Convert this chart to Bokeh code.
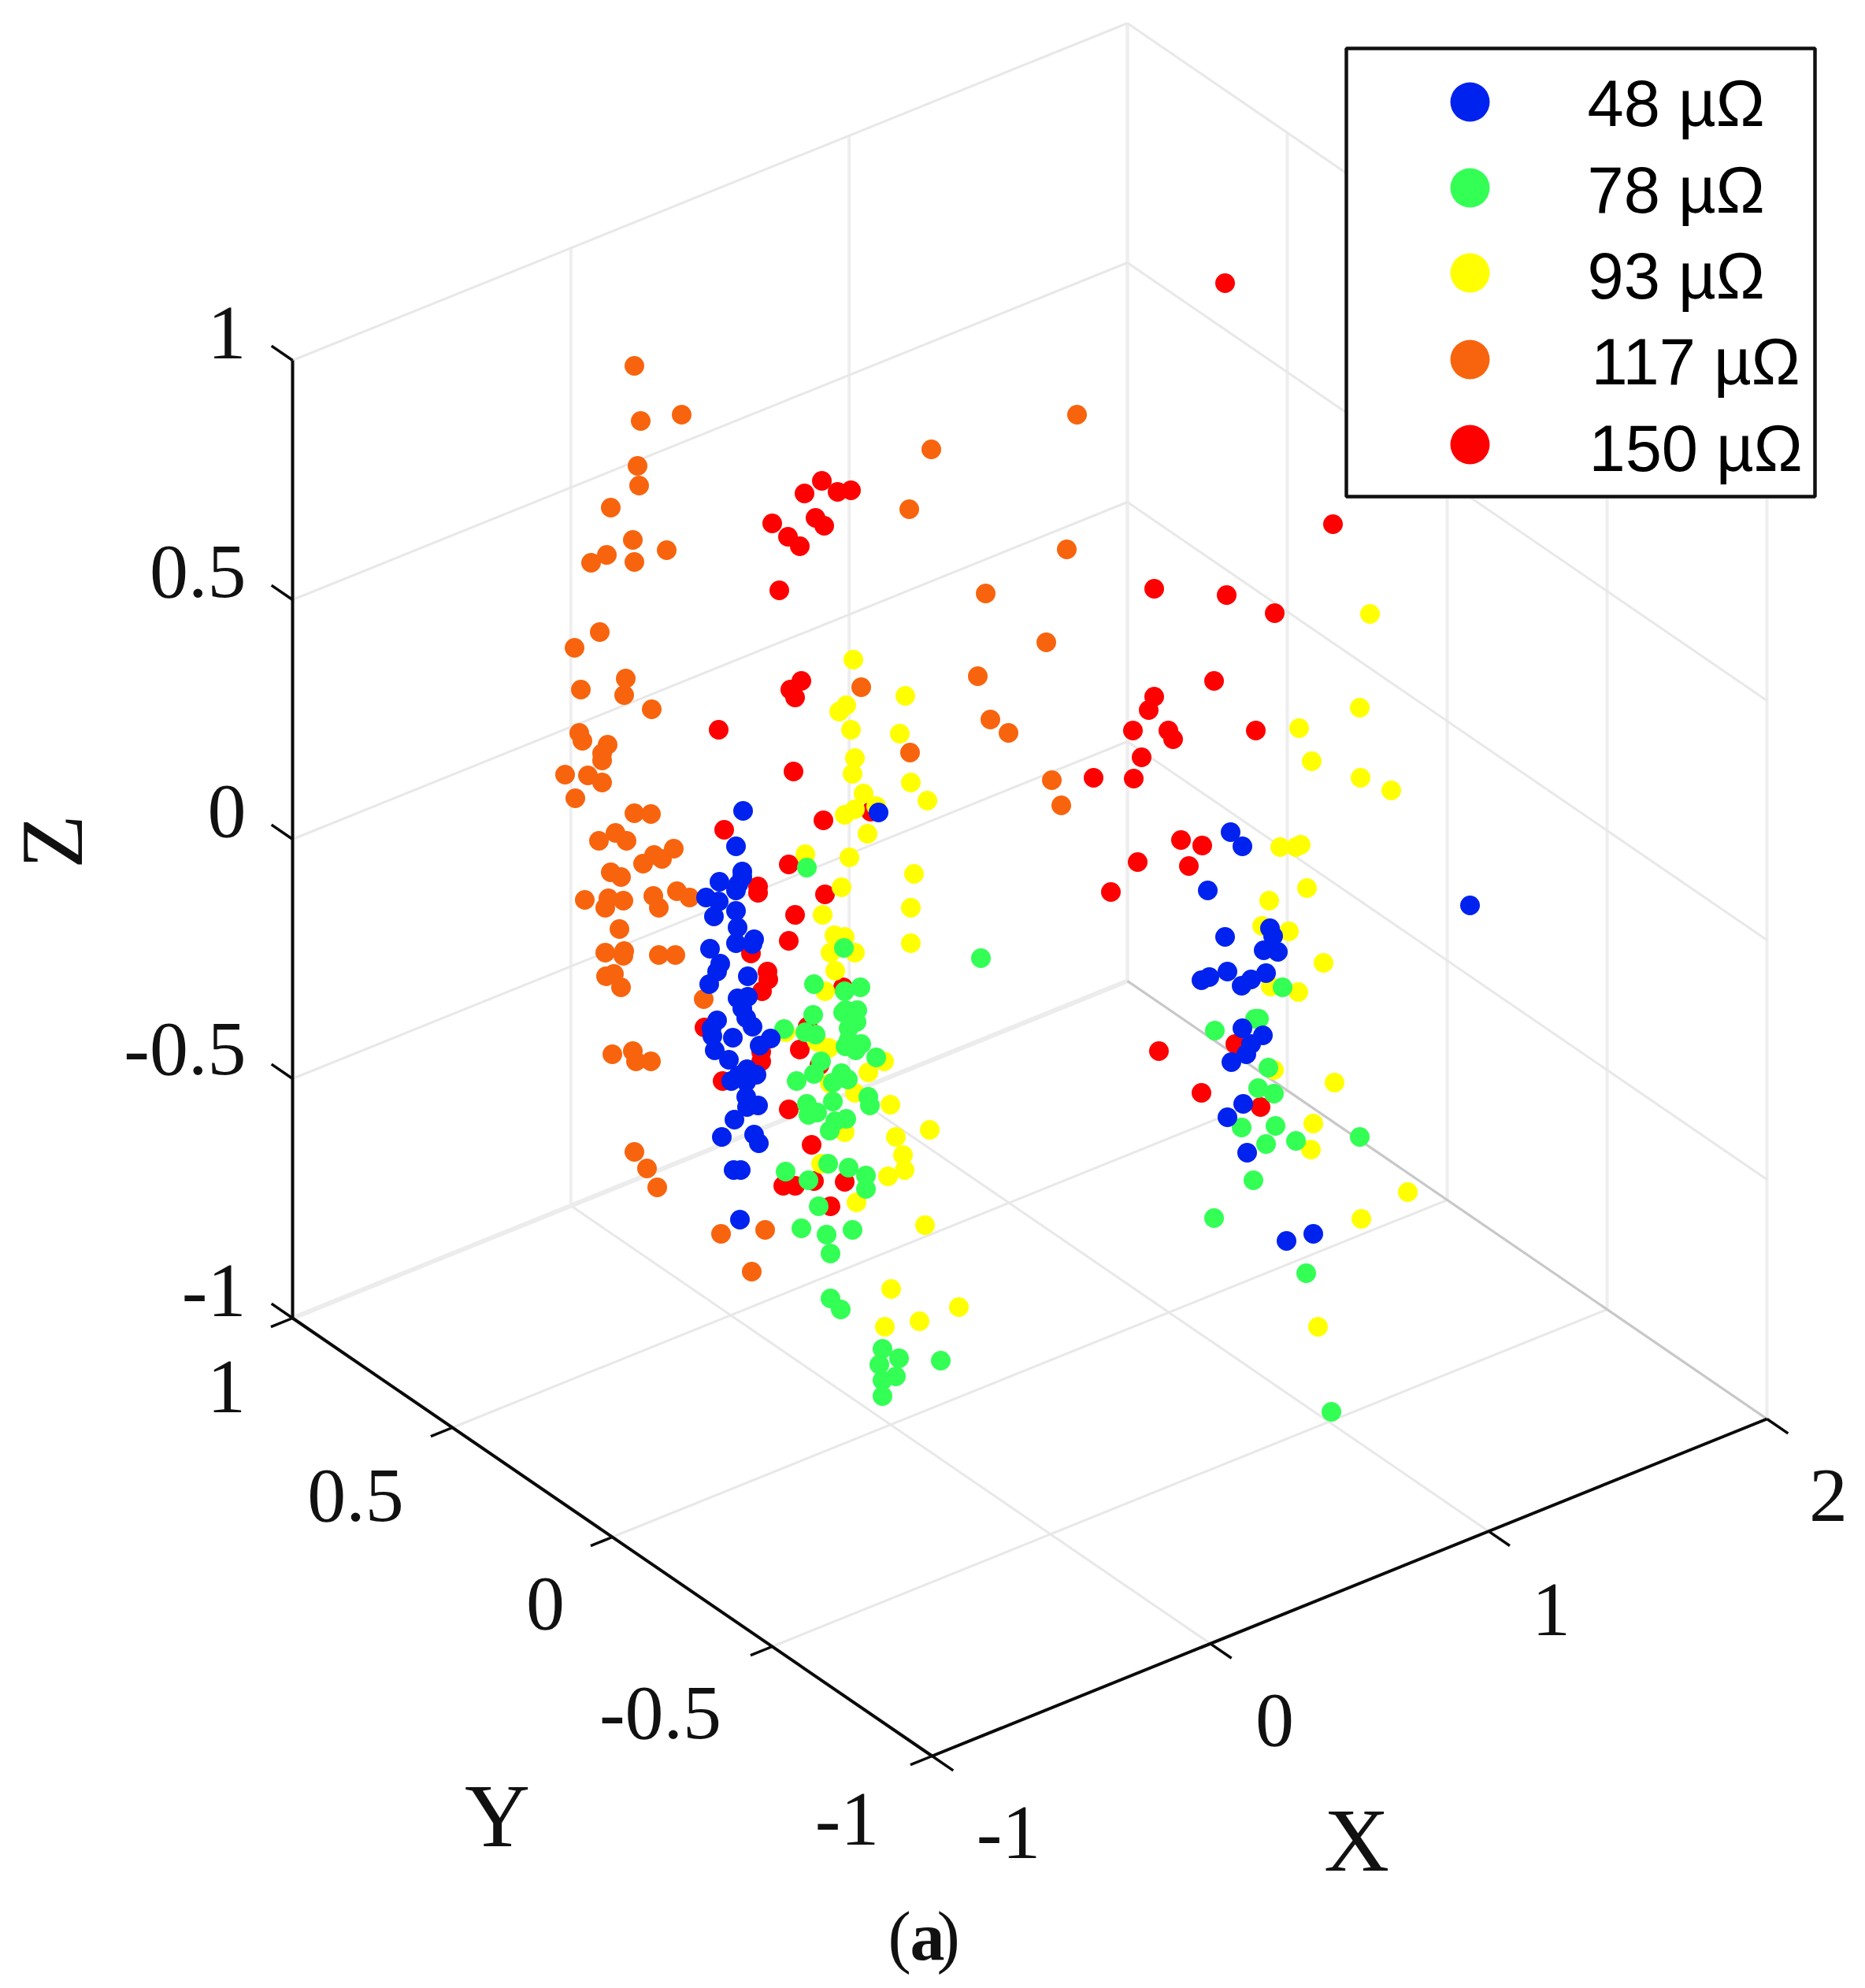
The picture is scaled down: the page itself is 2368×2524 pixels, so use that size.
from bokeh.plotting import figure
from bokeh.embed import file_html
from bokeh.resources import INLINE
from bokeh.core.properties import value
import math

blue_x = [943,934,942,942,913,937,934,896,912,906,934,936,957,934,955,901,914,910,900,949,1115,
          936,949,942,947,910,903,955,904,930,978,964,907,925,948,960,928,937,947,947,962,948,932,916,957,963,931,940,939,
          1562,1577,1533,1866,1555,1612,1616,1604,1622,1525,1535,1558,1607,1588,1576,1577,1603,1588,1582,1563,1578,1558,1583,1633,1667]
blue_y = [1029,1074,1106,1113,1119,1122,1130,1139,1144,1163,1156,1177,1192,1197,1198,1204,1223,1233,1249,1239,1031,
          1267,1265,1280,1292,1295,1305,1303,1315,1317,1318,1327,1333,1345,1357,1364,1372,1365,1373,1392,1403,1405,1421,1443,1440,1451,1485,1485,1548,
          1056,1074,1130,1149,1189,1178,1188,1206,1208,1244,1240,1233,1235,1243,1251,1305,1314,1325,1338,1348,1401,1418,1463,1575,1566]

green_x = [1024,1071,1245,1033,1072,1092,1073,1088,1070,1032,1087,995,1077,1022,1035,1077,1093,1073,1086,1112,1042,1033,1011,1068,1076,1057,1102,1104,1057,1024,1037,1026,1074,1060,1053,
           1051,997,1077,1099,1026,1099,1039,1017,1049,1082,1054,1054,1067,1120,1116,1141,1120,1137,1120,1194,
           1628,1542,1593,1598,1610,1597,1617,1576,1619,1607,1645,1726,1591,1541,1658,1690]
green_y = [1101,1203,1216,1249,1258,1253,1282,1282,1285,1288,1297,1306,1305,1310,1313,1320,1325,1328,1333,1342,1347,1363,1372,1362,1370,1374,1392,1403,1398,1401,1412,1415,1420,1423,1435,
           1477,1487,1482,1492,1498,1509,1531,1559,1567,1561,1591,1648,1662,1712,1732,1724,1752,1747,1772,1727,
           1253,1308,1293,1293,1355,1381,1388,1431,1429,1452,1448,1443,1498,1546,1616,1792]

yellow_x = [1083,1149,1074,1065,1080,1142,1085,1082,1156,1096,1177,1085,1072,1112,1101,1022,1078,1160,1068,1156,1044,1156,1059,1072,1054,1085,1060,
            1047,997,1052,1037,1122,1102,1085,1053,1130,1180,1137,1072,1146,1148,1127,1042,1087,1174,1131,1123,1167,1217,
            1625,1645,1651,1659,1611,1602,1636,1680,1613,1648,1617,1694,1667,1664,1787,1728,1673,1739,1726,1649,1665,1727,1766]
yellow_y = [837,883,895,903,926,931,962,982,993,1007,1016,1027,1034,1023,1058,1084,1088,1109,1126,1152,1161,1197,1187,1189,1209,1209,1232,
            1258,1310,1330,1322,1347,1361,1387,1375,1402,1434,1443,1437,1466,1485,1493,1477,1526,1555,1636,1684,1677,1659,
            1075,1075,1072,1127,1143,1175,1182,1222,1252,1259,1358,1374,1426,1459,1513,1547,1684,779,898,924,966,987,1003]

orange_x = [805,813,865,809,811,775,803,770,750,805,846,1182,1154,761,729,794,792,737,827,1093,1155,735,739,771,764,764,717,746,764,730,
            805,826,760,781,795,855,830,840,816,775,788,742,772,791,768,829,836,859,875,786,768,792,791,836,857,769,779,788,893,777,803,807,826,
            805,821,834,915,971,954,1367,1354,1251,1328,1241,1257,1280,1335,1347]
orange_y = [464,534,526,591,616,644,685,704,714,713,698,570,646,802,822,861,882,875,900,872,955,930,940,945,956,965,983,984,993,1013,
            1032,1033,1067,1057,1067,1077,1085,1090,1096,1107,1113,1142,1140,1143,1152,1137,1152,1131,1139,1179,1209,1207,1213,1212,1212,1239,1236,1253,1268,1338,1334,1347,1347,
            1462,1483,1507,1566,1561,1614,526,697,753,815,858,913,930,990,1022]

red_x = [1043,1021,1063,1080,1035,1046,980,1000,1015,989,1017,1003,1009,912,1007,919,1045,1105,1001,962,962,1047,1009,1001,953,974,967,1015,966,966,894,
         975,917,1001,1030,994,1009,1033,1072,1054,1070,1025,1040,
         1499,1526,1444,1509,1410,1471,1525,1600,1568,1555,1692,1465,1557,1618,1541,1465,1458,1438,1483,1489,1594,1449,1439,1388]
red_y = [610,626,624,622,657,667,664,681,693,749,864,875,885,926,979,1053,1041,1030,1097,1125,1133,1135,1161,1194,1210,1233,1258,1332,1335,1347,1304,
         1243,1372,1408,1453,1505,1505,1499,1500,1531,1253,1303,1352,
         1066,1073,1094,1099,1132,1334,1387,1405,1325,359,665,747,755,778,864,884,901,927,927,938,927,961,988,987]

series_labels = ["48 µΩ", "78 µΩ", "93 µΩ", "117 µΩ", "150 µΩ"]
series_colors = ["#0022EE", "#33FF55", "#FFFF00", "#F8640E", "#FF0000"]
x_ticks = [-1, 0, 1, 2]
y_ticks = [-1, -0.5, 0, 0.5, 1]
z_ticks = [-1, -0.5, 0, 0.5, 1]

A = (371, 1673); VX = (1060, -428); VY = (812, 556); VZ = (0, -1216)

def P(X, Y, Z):
    a, b, c = (X + 1) / 3, (1 - Y) / 2, (Z + 1) / 2
    return (A[0] + a * VX[0] + b * VY[0] + c * VZ[0],
            A[1] + a * VX[1] + b * VY[1] + c * VZ[1])

p = figure(width=2352, height=2516, x_range=(0, 2352), y_range=(2516, 0),
           output_backend="svg", toolbar_location=None, min_border=0)
p.axis.visible = False
p.grid.visible = False
p.outline_line_color = None
p.background_fill_color = "white"

def seg(a, b, color, w):
    p.line([a[0], b[0]], [a[1], b[1]], line_color=color, line_width=w)

GRID = "#e8e8e8"
for X in x_ticks:
    seg(P(X, -1, -1), P(X, 1, -1), GRID, 3)
    seg(P(X, 1, -1), P(X, 1, 1), "#eeeeee", 4)
for Y in y_ticks:
    seg(P(-1, Y, -1), P(2, Y, -1), GRID, 3)
    seg(P(2, Y, -1), P(2, Y, 1), "#eeeeee", 4)
for Z in z_ticks:
    seg(P(-1, 1, Z), P(2, 1, Z), GRID, 3)
    seg(P(2, 1, Z), P(2, -1, Z), GRID, 3)
seg(P(-1, 1, -1), P(2, 1, -1), "#ececec", 6)
seg(P(2, 1, -1), P(2, -1, -1), "#c8c8c8", 3)

# axes and ticks
INK = "#0a0a0a"
seg(P(-1, 1, -1), P(-1, 1, 1), INK, 4)
seg(P(-1, 1, -1), P(-1, -1, -1), INK, 4)
seg(P(-1, -1, -1), P(2, -1, -1), INK, 4)
for Z in z_ticks:
    a = P(-1, 1, Z)
    seg(a, (a[0] - VY[0] * 0.033, a[1] - VY[1] * 0.033), INK, 3.5)
for Y in y_ticks:
    a = P(-1, Y, -1)
    seg(a, (a[0] - VX[0] * 0.026, a[1] - VX[1] * 0.026), INK, 3.5)
for X in x_ticks:
    a = P(X, -1, -1)
    seg(a, (a[0] + VY[0] * 0.033, a[1] + VY[1] * 0.033), INK, 3.5)

# markers: red first, blue last
for xs, ys, c in [(red_x, red_y, series_colors[4]), (orange_x, orange_y, series_colors[3]),
                  (yellow_x, yellow_y, series_colors[2]), (green_x, green_y, series_colors[1]),
                  (blue_x, blue_y, series_colors[0])]:
    p.scatter(xs, ys, size=25, fill_color=c, line_color=None)

SERIF = value("Liberation Serif")
def label(x, y, t, size=98, align="center", angle=0.0, style="normal", font=SERIF, color="#111111"):
    p.text([x], [y], text=[t], text_font=font, text_font_size=value(f"{size}px"),
           text_align=align, text_baseline="middle", angle=angle,
           text_font_style=style, text_color=color)

Z_TXT = ["-1", "-0.5", "0", "0.5", "1"]
for t, y in zip(Z_TXT, [1638, 1331, 1029, 725, 422]):
    label(312, y, t, align="right")
Y_TXT = ["1", "0.5", "0", "-0.5", "-1"]
for t, (x, y) in zip(Y_TXT, [(287, 1760), (451, 1898), (692, 2035), (838, 2174), (1075, 2309)]):
    label(x, y, t)
X_TXT = ["-1", "0", "1", "2"]
for t, (x, y) in zip(X_TXT, [(1280, 2326), (1618, 2183), (1969, 2043), (2321, 1898)]):
    label(x, y, t)
label(65, 1068, "Z", size=112, angle=math.pi / 2)
label(631, 2305, "Y", size=115)
label(1722, 2336, "X", size=115)
label(1127, 2458, "(", size=88, align="left")
label(1155, 2458, "a", size=88, align="left", style="bold")
label(1189, 2458, ")", size=88, align="left")

# legend
p.quad(left=[1709], right=[2304], top=[61], bottom=[630], fill_color="white", line_color="#111111", line_width=4.5)
SANS = value("Liberation Sans")
for lbl, c, my, ty, lx in zip(series_labels, series_colors, [129, 238, 346, 456, 564],
                              [131, 241, 350, 459, 569], [2015, 2015, 2015, 2020, 2017]):
    p.scatter([1866], [my], size=50, fill_color=c, line_color=None)
    label(lx, ty, lbl, size=83, align="left", font=SANS, color="black")

open("out.html", "w").write(file_html(p, INLINE))
